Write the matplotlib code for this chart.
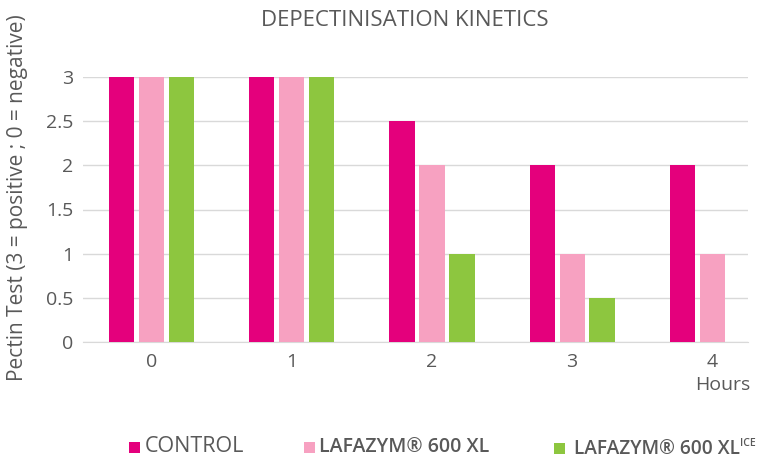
import matplotlib
matplotlib.use("Agg")
import matplotlib.pyplot as plt
from matplotlib.patches import Rectangle
import numpy as np

categories = ["0", "1", "2", "3", "4"]
control = [3, 3, 2.5, 2, 2]
lafazym = [3, 3, 2, 1, 1]
lafazym_ice = [3, 3, 1, 0.5, 0]
yticks = [0, 0.5, 1, 1.5, 2, 2.5, 3]
ytick_labels = ["0", "0.5", "1", "1.5", "2", "2.5", "3"]

c_control = "#E4007C"
c_pink = "#F7A1C1"
c_green = "#8DC63F"
txt = "#595959"

plt.rcParams['font.family'] = ['Open Sans', 'DejaVu Sans']

fig = plt.figure(figsize=(7.68, 4.59), dpi=100)
ax = fig.add_axes([83/768, 1-342/459, (748-83)/768, (342-77)/459])

x = np.arange(len(categories))
w = 0.18
off = 0.214
ax.bar(x - off, control, w, color=c_control, zorder=3)
ax.bar(x, lafazym, w, color=c_pink, zorder=3)
ax.bar(x + off, lafazym_ice, w, color=c_green, zorder=3)

ax.set_xlim(-0.49, 4.255)
ax.set_ylim(0, 3)
ax.set_yticks(yticks)
ax.set_yticklabels(ytick_labels)
ax.set_xticks(x)
ax.set_xticklabels(categories)
ax.yaxis.grid(True, color="#D9D9D9", linewidth=1, zorder=0)
for s in ["top", "right", "left"]:
    ax.spines[s].set_visible(False)
ax.spines["bottom"].set_color("#D9D9D9")
ax.tick_params(axis="both", length=0, labelsize=14, colors=txt)
ax.tick_params(axis="y", pad=7)
ax.tick_params(axis="x", pad=8)

fig.text(18/768, 1-198/459, "Pectin Test (3 = positive ; 0 = negative)", rotation=90,
         ha="center", va="center", fontsize=15, color=txt)
fig.text(723/768, 1-385/459, "Hours", ha="center", va="center", fontsize=14, color=txt)
fig.text(405/768, 1-21/459, "DEPECTINISATION KINETICS", ha="center", va="center",
         fontsize=16, color=txt)

# legend
def sq(x0, y0, color):
    fig.patches.append(Rectangle((x0/768, 1-(y0+11)/459), 11/768, 11/459,
                                 transform=fig.transFigure,
                                 facecolor=color, edgecolor="none"))
sq(129, 442, c_control)
fig.text(145/768, 1-446.5/459, "CONTROL", ha="left", va="center", fontsize=15.5, color=txt)
sq(304, 442, c_pink)
fig.text(319/768, 1-446.5/459, "LAFAZYM® 600 XL", ha="left", va="center", fontsize=14,
         color=txt, fontweight="semibold")
sq(554, 443, c_green)
t = fig.text(574/768, 1-449/459, "LAFAZYM® 600 XL", ha="left", va="center", fontsize=13.8,
             color=txt, fontweight="semibold")
fig.canvas.draw()
bb = t.get_window_extent()
fig.text(bb.x1/768, 1-443/459, "ICE", ha="left", va="center", fontsize=7.5,
         color=txt, fontweight="semibold")

fig.savefig("out.png", dpi=100)
